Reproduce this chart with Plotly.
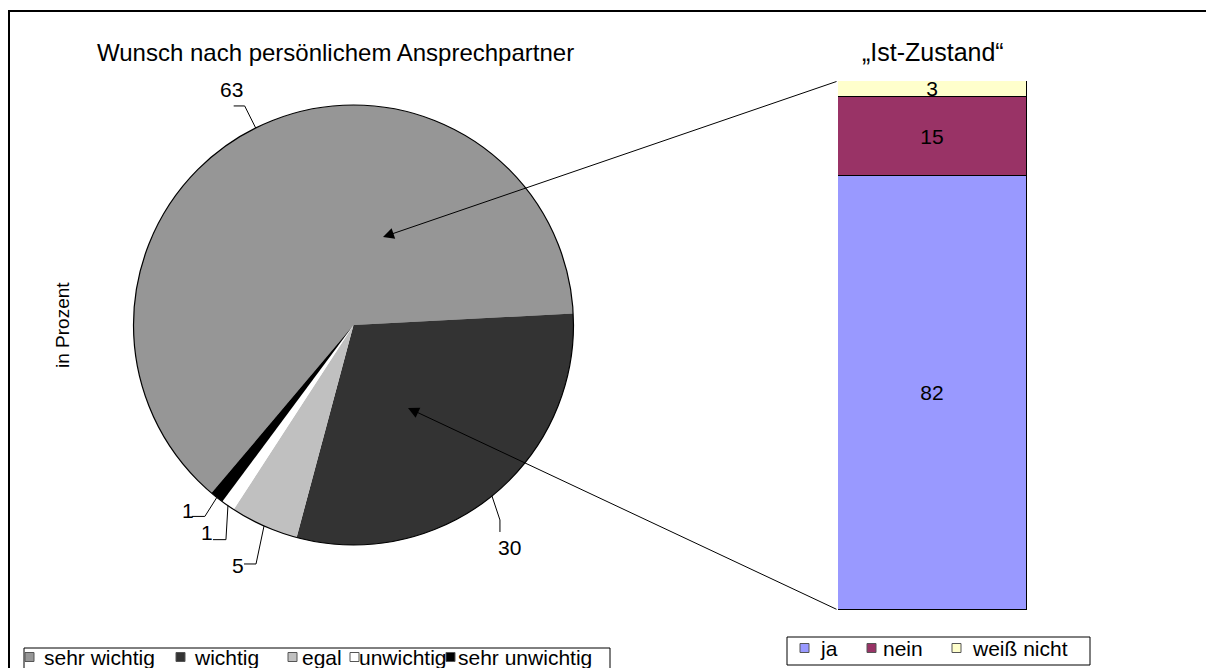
import math
import plotly.graph_objects as go

W, H = 1206, 668

# ---- data ----
pie_title = "Wunsch nach persönlichem Ansprechpartner"
pie_labels = ["sehr wichtig", "wichtig", "egal", "unwichtig", "sehr unwichtig"]
pie_values = [63, 30, 5, 1, 1]
pie_colors = ["#969696", "#333333", "#C0C0C0", "#FFFFFF", "#000000"]

bar_title = "„Ist-Zustand“"
bar_labels = ["ja", "nein", "weiß nicht"]
bar_values = [82, 15, 3]
bar_colors = ["#9999FF", "#993366", "#FFFFCC"]

y_title = "in Prozent"

FONT = "Liberation Sans, Arial, sans-serif"

# ---- layout geometry (pixels) ----
pie_cx, pie_cy, pie_r = 353.5, 325.0, 220.0
pie_rotation = 220.2  # clock degrees where first slice starts
bar_x0, bar_x1, bar_top, bar_bot = 838, 1027, 81, 610


def px2paper(px, py):
    return px / W, 1 - py / H


fig = go.Figure()

pdx = [(pie_cx - pie_r) / W, (pie_cx + pie_r) / W]
pdy = [1 - (pie_cy + pie_r) / H, 1 - (pie_cy - pie_r) / H]

fig.add_trace(go.Pie(
    labels=pie_labels, values=pie_values, sort=False, direction="clockwise",
    rotation=pie_rotation, textinfo="none", hoverinfo="label+value",
    marker=dict(colors=pie_colors, line=dict(width=0)),
    domain=dict(x=pdx, y=pdy), showlegend=False,
))

for lab, val, col in zip(bar_labels, bar_values, bar_colors):
    fig.add_trace(go.Bar(
        x=[0], y=[val], name=lab,
        marker=dict(color=col, line=dict(color="#000000", width=1)),
        width=1, text=[str(val)], textposition="inside", insidetextanchor="middle",
        textangle=0, constraintext="none",
        textfont=dict(family=FONT, size=21, color="#000000"),
        showlegend=False, xaxis="x", yaxis="y",
    ))

shapes = []
annotations = []
# outer chart frame
shapes.append(dict(type="rect", xref="paper", yref="paper",
                   x0=9 / W, x1=1212 / W, y0=1 - 675 / H, y1=1 - 11 / H,
                   line=dict(color="#000000", width=2), fillcolor="rgba(0,0,0,0)", layer="below"))
# pie outline circle
shapes.append(dict(type="circle", xref="paper", yref="paper",
                   x0=pdx[0], x1=pdx[1], y0=pdy[0], y1=pdy[1],
                   line=dict(color="#000000", width=1.2)))

# slice value labels with elbow leader lines (offsets in px from the slice edge midpoint)
leader_elbow = [(-11, -22), (8, 24), (-8, 38), (-2, 34), (-12, 19)]
leader_end = [(-22, -22), (8, 36), (-20, 38), (-15, 34), (-25, 19)]
label_pos = [(-24, -38), (18, 52), (-26, 40), (-21, 27), (-29, 13)]
total = sum(pie_values)
acc = 0.0
for val, el, en, lp in zip(pie_values, leader_elbow, leader_end, label_pos):
    mid = pie_rotation + (acc + val / 2) / total * 360
    acc += val
    a = math.radians(mid)
    ex = pie_cx + pie_r * math.sin(a)
    ey = pie_cy - pie_r * math.cos(a)
    pts = [px2paper(ex, ey), px2paper(ex + el[0], ey + el[1]), px2paper(ex + en[0], ey + en[1])]
    path = "M {} {} L {} {} L {} {}".format(*[c for p in pts for c in p])
    shapes.append(dict(type="path", xref="paper", yref="paper", path=path,
                       line=dict(color="#000000", width=1)))
    lx, ly = px2paper(ex + lp[0], ey + lp[1])
    annotations.append(dict(x=lx, y=ly, xref="paper", yref="paper", text=str(val),
                            xanchor="center", yanchor="middle", showarrow=False,
                            font=dict(family=FONT, size=21, color="#000000")))

# connection arrows from bar corners to pie slices
for (tx, ty), (sx, sy) in [((383, 237), (bar_x0, bar_top)), ((408, 408), (bar_x0, bar_bot))]:
    x, y = px2paper(tx, ty)
    annotations.append(dict(x=x, y=y, xref="paper", yref="paper", text="",
                            showarrow=True, arrowhead=2, arrowsize=2.2, arrowwidth=1,
                            arrowcolor="#000000", ax=sx - tx, ay=sy - ty, standoff=0))

annotations.append(dict(x=335 / W, y=1 - 52 / H, xref="paper", yref="paper", text=pie_title,
                        xanchor="center", yanchor="middle",
                        showarrow=False, font=dict(family=FONT, size=24, color="#000000")))
annotations.append(dict(x=933 / W, y=1 - 52 / H, xref="paper", yref="paper", text=bar_title,
                        xanchor="center", yanchor="middle",
                        showarrow=False, font=dict(family=FONT, size=25, color="#000000")))
annotations.append(dict(x=63 / W, y=1 - 325 / H, xref="paper", yref="paper", text=y_title,
                        xanchor="center", yanchor="middle",
                        textangle=-90, showarrow=False, font=dict(family=FONT, size=19, color="#000000")))


# ---- manual legends (Excel style) ----
def add_legend(box, labels, colors, sym_x, text_x, cy):
    bx0, by0, bx1, by1 = box
    shapes.append(dict(type="rect", xref="paper", yref="paper",
                       x0=bx0 / W, x1=bx1 / W, y0=1 - by1 / H, y1=1 - by0 / H,
                       line=dict(color="#000000", width=1), fillcolor="#FFFFFF"))
    for lab, col, sx, tx in zip(labels, colors, sym_x, text_x):
        shapes.append(dict(type="rect", xref="paper", yref="paper",
                           x0=sx / W, x1=(sx + 9) / W, y0=1 - (cy + 4.5) / H, y1=1 - (cy - 4.5) / H,
                           line=dict(color="#555555", width=1), fillcolor=col))
        annotations.append(dict(x=tx / W, y=1 - cy / H, xref="paper", yref="paper", text=lab,
                                xanchor="left", yanchor="middle", showarrow=False,
                                font=dict(family=FONT, size=21, color="#000000")))


add_legend((24, 648, 610, 676), pie_labels, pie_colors,
           [25, 176, 288, 350, 446], [42, 192, 300, 357, 456], 657)
add_legend((787, 637, 1090, 665), bar_labels, bar_colors,
           [800, 867, 952], [818, 881, 970], 648)

fig.update_layout(
    width=W, height=H, margin=dict(l=0, r=0, t=0, b=0),
    paper_bgcolor="#FFFFFF", plot_bgcolor="rgba(0,0,0,0)",
    barmode="stack", bargap=0, showlegend=False,
    font=dict(family=FONT, size=16, color="#000000"),
    uniformtext=dict(minsize=21, mode="show"),
    xaxis=dict(domain=[bar_x0 / W, bar_x1 / W], range=[-0.5, 0.5], visible=False, fixedrange=True),
    yaxis=dict(domain=[1 - bar_bot / H, 1 - bar_top / H], range=[0, 100], visible=False, fixedrange=True),
    shapes=shapes, annotations=annotations,
)

fig.write_html("out.html", config={"displayModeBar": False},
               post_script="document.body.style.margin='0';document.body.style.overflow='hidden';")
